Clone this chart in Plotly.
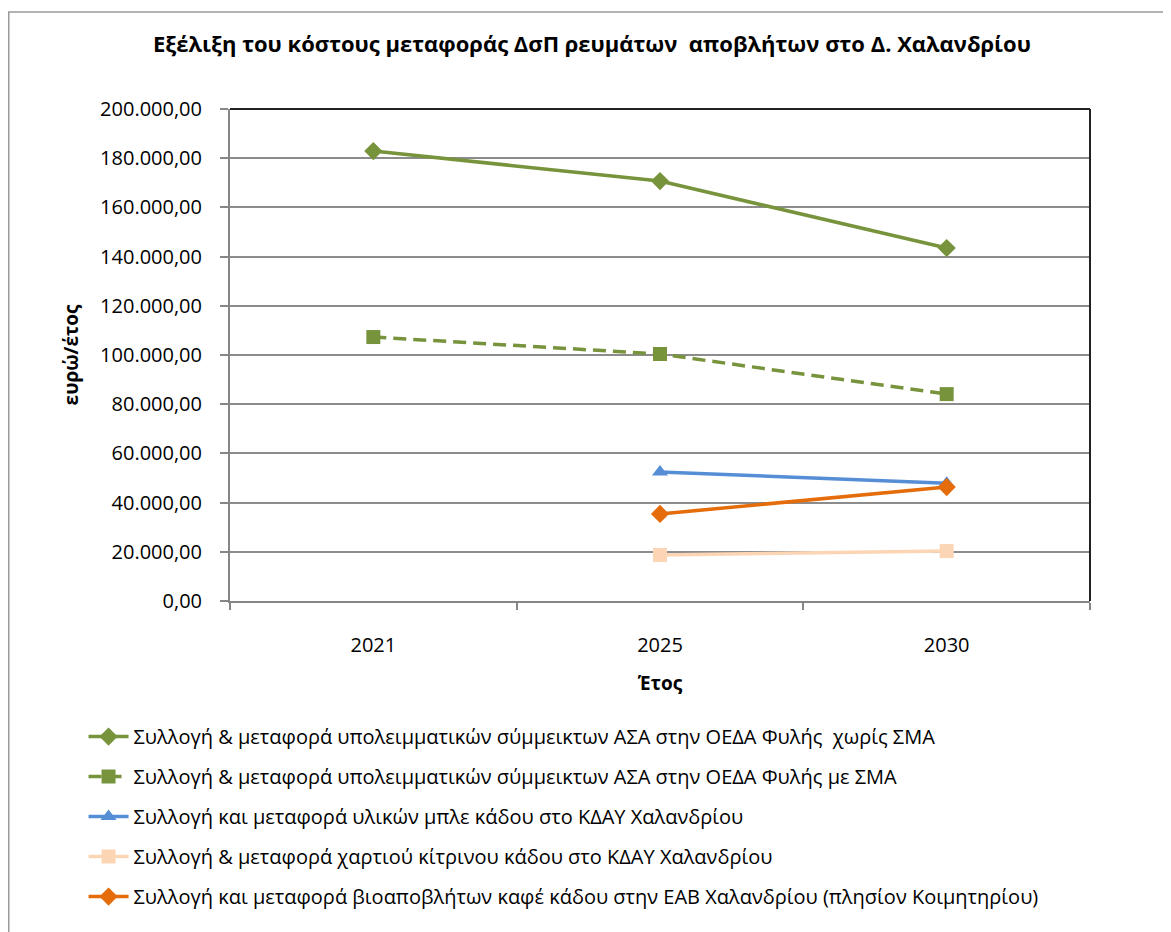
import plotly.graph_objects as go

years = ["2021", "2025", "2030"]
s1_name = "Συλλογή & μεταφορά υπολειμματικών σύμμεικτων ΑΣΑ στην ΟΕΔΑ Φυλής  χωρίς ΣΜΑ"
s2_name = "Συλλογή & μεταφορά υπολειμματικών σύμμεικτων ΑΣΑ στην ΟΕΔΑ Φυλής με ΣΜΑ"
s3_name = "Συλλογή και μεταφορά υλικών μπλε κάδου στο ΚΔΑΥ Χαλανδρίου"
s4_name = "Συλλογή & μεταφορά χαρτιού κίτρινου κάδου στο ΚΔΑΥ Χαλανδρίου"
s5_name = "Συλλογή και μεταφορά βιοαποβλήτων καφέ κάδου στην ΕΑΒ Χαλανδρίου (πλησίον Κοιμητηρίου)"
s1_vals = [182900, 170700, 143500]
s2_vals = [107300, 100400, 84100]
s3_vals = [None, 52400, 47900]
s4_vals = [None, 18700, 20300]
s5_vals = [None, 35400, 46300]
y_ticks = [0, 20000, 40000, 60000, 80000, 100000, 120000, 140000, 160000, 180000, 200000]

FONT = "Open Sans"
L, R, T, B = 222, 89, 101, 339
W, H = 1171, 932
PW, PH = W - L - R, H - T - B
PB = T + PH  # plot bottom (fig px)

fig = go.Figure()
series = [
    (s1_name, s1_vals, "#77933C", "solid", "diamond", 14),
    (s2_name, s2_vals, "#77933C", "13px,7px", "square", 14),
    (s3_name, s3_vals, "#558ED5", "solid", "triangle-up", 14),
    (s4_name, s4_vals, "#FCD5B5", "solid", "square", 14),
    (s5_name, s5_vals, "#E46C0A", "solid", "diamond", 14),
]
for i, (name, vals, col, dash, sym, ms) in enumerate(series):
    fig.add_trace(go.Scatter(
        x=years, y=vals, name=name, mode="lines+markers",
        line=dict(color=col, width=3.5, dash=dash),
        marker=dict(symbol=sym, size=ms, color=col),
        legendgroup=f"g{i}", connectgaps=False,
    ))

fig.update_layout(
    width=W, height=H,
    margin=dict(l=L, r=R, t=T, b=B, autoexpand=False),
    paper_bgcolor="white", plot_bgcolor="white",
    separators=",.",
    font=dict(family=FONT, size=20, color="black"),
    title=dict(text="<b>Εξέλιξη του κόστους μεταφοράς ΔσΠ ρευμάτων  αποβλήτων στο Δ. Χαλανδρίου</b>",
               x=0.4987, xanchor="center", y=0.961, yanchor="middle",
               font=dict(family=FONT, size=22)),
    showlegend=True,
    legend=dict(x=-0.1703, xanchor="left", y=-0.236, yanchor="top",
                font=dict(family=FONT, size=20), tracegroupgap=11,
                itemwidth=40, bgcolor="rgba(0,0,0,0)"),
    xaxis=dict(
        type="category", range=[-0.5, 2.5], showline=True, linecolor="#868686", linewidth=2,
        ticks="outside", tickson="boundaries", ticklen=7, tickcolor="#868686", tickwidth=2,
        showgrid=False, tickfont=dict(size=20), ticklabelstandoff=25,
        title=dict(text="<b>Έτος</b>", standoff=20, font=dict(size=19)),
    ),
    yaxis=dict(
        range=[0, 200000], tickvals=y_ticks, tickformat=",.2f",
        showline=True, linecolor="#868686", linewidth=2,
        ticks="outside", ticklen=8, tickcolor="#868686", tickwidth=2,
        showgrid=True, gridcolor="#8C8C8C", gridwidth=1.5, zeroline=False,
        tickfont=dict(size=20), ticklabelstandoff=14,
        title=dict(text="<b>ευρώ/έτος</b>", standoff=16, font=dict(size=19)),
    ),
)
# plot area black top/right border
fig.add_shape(type="line", xref="paper", yref="paper", x0=0, x1=1, y0=1, y1=1,
              line=dict(color="#222222", width=2))
fig.add_shape(type="line", xref="paper", yref="paper", x0=1, x1=1, y0=0, y1=1,
              line=dict(color="#222222", width=2))
# outer chart border
fig.add_shape(type="rect", xref="paper", yref="paper",
              x0=(0.75 - L) / PW, x1=(W + 20 - L) / PW,
              y0=(PB - H - 20) / PH, y1=(PB - 4) / PH,
              line=dict(color="#9A9A9A", width=1.5), layer="below")
fig.write_html("out.html")
